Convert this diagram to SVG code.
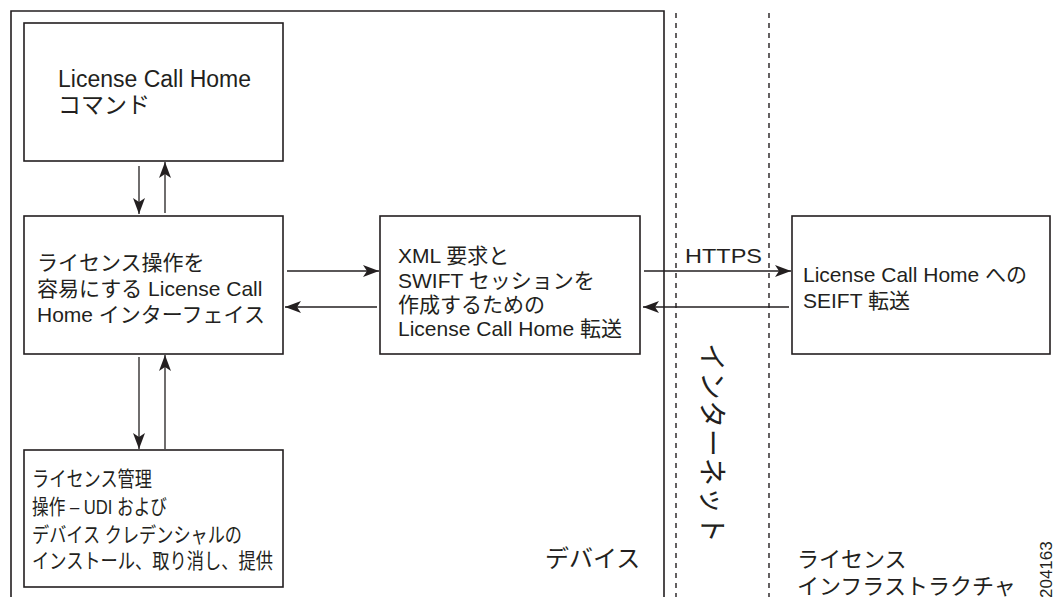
<svg xmlns="http://www.w3.org/2000/svg" width="1055" height="597" viewBox="0 0 1055 597">
<style>
.box{fill:#fff;stroke:#231f20;stroke-width:1.6}
.frame{fill:none;stroke:#231f20;stroke-width:1.6}
.dash{fill:none;stroke:#231f20;stroke-width:1.4;stroke-dasharray:5,5}
.conn{fill:none;stroke:#231f20;stroke-width:1.3}
text{font-family:"Liberation Sans","Noto Sans CJK JP",sans-serif;fill:#231f20}
.t{font-size:21px}
.s{font-size:21px}
.big{font-size:24px}
</style>
<defs>
<marker id="ah" markerUnits="userSpaceOnUse" markerWidth="17" markerHeight="13" refX="16" refY="6" orient="auto">
<path d="M0,0 L16,6 L0,12 L4,6 z" fill="#231f20"/>
</marker>
</defs>
<g id="frame">
<path class="frame" d="M11,597 V11 H664 V597"/>
<line class="dash" x1="676" y1="13" x2="676" y2="597"/>
<line class="dash" x1="769" y1="13" x2="769" y2="597"/>
</g>
<g id="node-command">
<rect class="box" x="24" y="23" width="259" height="138"/>
<text class="t" style="font-size:23px" x="58" y="87">License Call Home</text>
<text class="t" style="font-size:23px" x="58" y="113">コマンド</text>
</g>
<g id="node-interface">
<rect class="box" x="24" y="216" width="259" height="138"/>
<text class="t" x="37" y="270">ライセンス操作を</text>
<text class="t" x="37" y="296">容易にする License Call</text>
<text class="t" x="37" y="322">Home インターフェイス</text>
</g>
<g id="node-management">
<rect class="box" x="24" y="450" width="259" height="137"/>
<text class="s" x="32" y="486" textLength="120" lengthAdjust="spacingAndGlyphs">ライセンス管理</text>
<text class="s" x="32" y="514" textLength="135" lengthAdjust="spacingAndGlyphs">操作 – UDI および</text>
<text class="s" x="32" y="542" textLength="210" lengthAdjust="spacingAndGlyphs">デバイス クレデンシャルの</text>
<text class="s" x="32" y="568" textLength="241" lengthAdjust="spacingAndGlyphs">インストール、取り消し、提供</text>
</g>
<g id="node-transport">
<rect class="box" x="380" y="216" width="260" height="138"/>
<text class="t" x="398" y="263">XML 要求と</text>
<text class="t" x="398" y="288">SWIFT セッションを</text>
<text class="t" x="398" y="312">作成するための</text>
<text class="t" x="398" y="336">License Call Home 転送</text>
</g>
<g id="node-swift">
<rect class="box" x="792" y="216" width="258" height="138"/>
<text class="t" x="803" y="282">License Call Home への</text>
<text class="t" x="803" y="308">SEIFT 転送</text>
</g>
<g id="connectors">
<line class="conn" x1="139" y1="166" x2="139" y2="214" marker-end="url(#ah)"/>
<line class="conn" x1="165" y1="213" x2="165" y2="162" marker-end="url(#ah)"/>
<line class="conn" x1="139" y1="357" x2="139" y2="449" marker-end="url(#ah)"/>
<line class="conn" x1="165" y1="449" x2="165" y2="355" marker-end="url(#ah)"/>
<line class="conn" x1="287" y1="271" x2="379" y2="271" marker-end="url(#ah)"/>
<line class="conn" x1="377" y1="307" x2="285" y2="307" marker-end="url(#ah)"/>
<line class="conn" x1="644" y1="271" x2="791" y2="271" marker-end="url(#ah)"/>
<line class="conn" x1="789" y1="307" x2="643" y2="307" marker-end="url(#ah)"/>
</g>
<g id="labels">
<text class="t" x="685" y="263" textLength="77" lengthAdjust="spacingAndGlyphs">HTTPS</text>
<text class="big" x="545" y="567">デバイス</text>
<text style="font-size:28px" transform="translate(702,343) rotate(90)" x="0" y="0" textLength="200" lengthAdjust="spacing">インターネット</text>
<text style="font-size:22px" x="797" y="567">ライセンス</text>
<text style="font-size:22px" x="797" y="594">インフラストラクチャ</text>
<text style="font-size:17px" transform="translate(1052,598) rotate(-90)" x="0" y="0">204163</text>
</g>
</svg>
